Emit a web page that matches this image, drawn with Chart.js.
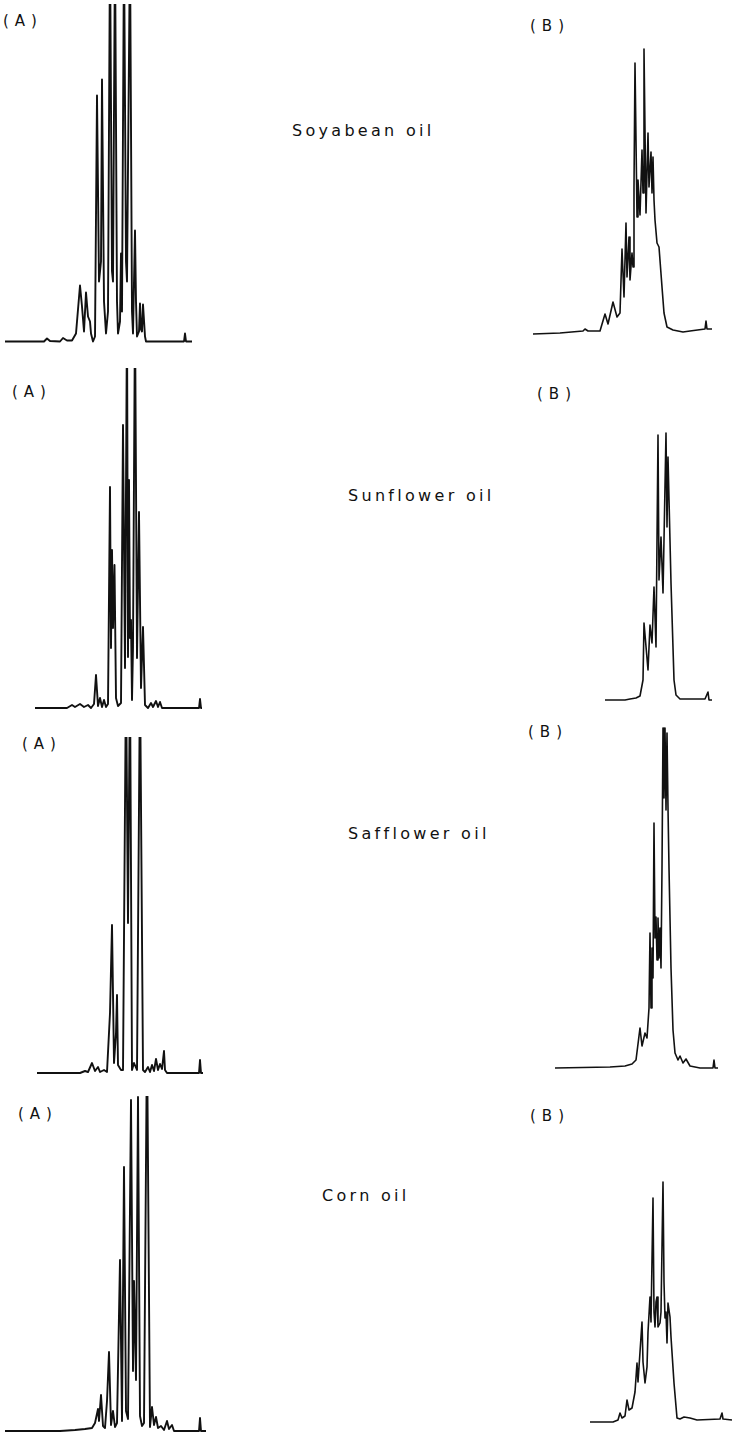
<!DOCTYPE html>
<html>
<head>
<meta charset="utf-8">
<script src="https://cdn.jsdelivr.net/npm/chart.js@4"></script>
<style>
  html, body { margin: 0; padding: 0; background: #fff; }
  #wrap { position: relative; width: 734px; height: 1435px; overflow: hidden; background: #fff; }
  canvas { position: absolute; }
  .lbl { position: absolute; font-family: "DejaVu Sans", sans-serif; color: #111; white-space: nowrap; line-height: 16px; }
  .ab { font-size: 15px; letter-spacing: 6px; }
  .oil { font-size: 16px; letter-spacing: 3.3px; }
</style>
</head>
<body>
<div id="wrap"></div>
<script>
// ---- Data: retention position (t) and detector response above baseline (r) ----
// Soyabean oil (A)
const soyA_t = [5,44,47,50,60,63,67,72,76,80,82,84,86,88,90,91,93,95,97,99,101,102,104,106,108,110,112,113,115,117,118,120,121,122,124,126,127,130,132,133,134,135,136,137,139,140,141,142,143,145,146,184,185,186,192];
const soyA_r = [0,0,3,0.5,0,3.5,1,1,8,56,35,10,49,25,20,8,0,5,246,60,80,262,40,8,30,400,70,60,400,40,8,20,88,30,400,80,60,400,30,8,60,111,40,5,10,38,12,10,37,5,0,0,8,0,0];
// Soyabean oil (B)
const soyB_t = [533,560,583,585,588,600,605,608,613,617,620,622,624,626,627,629,630,632,633,634,635,637,638,640,642,643,644,646,648,649,651,652,653,654,655,657,659,662,664,667,673,683,690,705,706,707,712];
const soyB_r = [0,1,3,5,3,3,20,10,32,17,21,85,37,111,57,97,54,81,67,147,271,117,154,119,184,141,285,121,201,147,182,141,177,134,114,91,87,47,21,7,4,2,3,5,13,5,5];
// Sunflower oil (A)
const sunA_t = [35,67,72,75,80,84,88,91,94,96,98,100,102,104,106,108,110,111,112,113,114.5,116,118,121,123,125,127,128,129,130,131,132,133,135,137,139,141,143,145,148,151,153,156,158,160,162,199,200,201,202];
const sunA_r = [0,0,3,1,4,1,3,0,4,33,2,10,1,8,1,4,221,60,158,80,143,10,2,5,283,40,400,51,228,70,88,8,61,400,50,196,20,81,3,0,5,1,7,1,6,0,0,9,0,0];
// Sunflower oil (B)
const sunB_t = [605,625,630,636,640,643,644,648,650,652,654,656,658,659,661,663,666,667,668,671,674,676,680,705,708,709,712];
const sunB_r = [0,0,1,2,4,20,77,30,75,57,113,53,265,120,163,107,267,173,243,117,20,5,1,1,8,0,0];
// Safflower oil (A)
const safA_t = [37,80,85,88,92,95,98,100,104,107,110,112,114,116,117,118,121,123,126,128,130,132,134,137,140,143,145,148,150,152,154,156,158,160,162,164,165,167,199,200,201,203];
const safA_r = [0,0,2,1,10,2,6,1,3,1,60,148,10,40,78,8,3,3,400,150,400,3,10,3,400,3,1,6,1,8,2,14,3,9,4,22,3,0,0,13,0,0];
// Safflower oil (B)
const safB_t = [555,610,625,632,636,640,642,645,647,649,650,651,652,653,654,655,656,657,658,659,660,661,662,663,664,665,666,667,668,669,670,671,673,675,678,680,683,686,690,700,713,714,715,718];
const safB_r = [0,1,2,4,8,40,22,35,30,60,135,60,120,90,245,130,151,108,150,110,140,100,200,340,270,340,258,335,260,200,150,100,38,15,8,12,5,9,2,0,0,8,0,0];
// Corn oil (A)
const cornA_t = [5,60,75,85,92,95,98,99,101,103,105,107,109,111,113,115,117,120,122,124,126,128,131,133,134,136,138,140,142,144,147,150,152,154,156,158,161,164,167,169,172,174,199,200,201,206];
const cornA_r = [0,0,1,2,3,8,22,10,36,5,3,30,79,6,20,4,8,171,10,264,20,12,331,60,150,51,334,15,5,8,400,4,24,6,14,3,5,1,10,2,6,0,0,13,0,0];
// Corn oil (B)
const cornB_t = [590,613,618,620,622,625,627,629,632,635,637,638,640,642,643,645,647,648,650,651,653,654,655,656,657,658,660,661,663,664,665,666,667,668,670,671,674,677,680,684,690,697,720,722,723,732];
const cornB_r = [0,0,2,9,4,6,22,12,14,30,59,40,70,100,60,39,55,90,125,100,224,110,95,120,125,95,99,110,240,140,104,110,79,119,105,85,39,4,3,5,4,2,3,9,3,2];

// ---- Layout (where each trace sits on the page) ----
const panels = [
  { t: soyA_t,  r: soyA_r,  left: 0,   top: 4,    width: 200, height: 346, base: 341.5, lw: 1.9 },
  { t: soyB_t,  r: soyB_r,  left: 520, top: 40,   width: 214, height: 300, base: 334,   lw: 1.6 },
  { t: sunA_t,  r: sunA_r,  left: 0,   top: 368,  width: 240, height: 347, base: 708,   lw: 1.9 },
  { t: sunB_t,  r: sunB_r,  left: 600, top: 380,  width: 134, height: 330, base: 700,   lw: 1.6 },
  { t: safA_t,  r: safA_r,  left: 0,   top: 737,  width: 220, height: 343, base: 1073,  lw: 1.9 },
  { t: safB_t,  r: safB_r,  left: 540, top: 720,  width: 194, height: 360, base: 1068,  lw: 1.6 },
  { t: cornA_t, r: cornA_r, left: 0,   top: 1096, width: 220, height: 339, base: 1431,  lw: 1.9 },
  { t: cornB_t, r: cornB_r, left: 580, top: 1150, width: 154, height: 285, base: 1422,  lw: 1.6 }
];

const labels = [
  { text: "(A)", cls: "ab", left: 3,   top: 13 },
  { text: "(B)", cls: "ab", left: 530, top: 18 },
  { text: "Soyabean oil", cls: "oil", left: 292, top: 123 },
  { text: "(A)", cls: "ab", left: 12,  top: 384 },
  { text: "(B)", cls: "ab", left: 537, top: 386 },
  { text: "Sunflower oil", cls: "oil", left: 348, top: 488 },
  { text: "(A)", cls: "ab", left: 22,  top: 736 },
  { text: "(B)", cls: "ab", left: 528, top: 724 },
  { text: "Safflower oil", cls: "oil", left: 348, top: 826 },
  { text: "(A)", cls: "ab", left: 18,  top: 1106 },
  { text: "(B)", cls: "ab", left: 530, top: 1108 },
  { text: "Corn oil", cls: "oil", left: 322, top: 1188 }
];

const wrap = document.getElementById('wrap');
labels.forEach(l => {
  const d = document.createElement('div');
  d.className = 'lbl ' + l.cls;
  d.textContent = l.text;
  d.style.left = l.left + 'px';
  d.style.top = l.top + 'px';
  wrap.appendChild(d);
});

panels.forEach(p => {
  const c = document.createElement('canvas');
  c.width = p.width; c.height = p.height;
  c.style.left = p.left + 'px'; c.style.top = p.top + 'px';
  c.style.width = p.width + 'px'; c.style.height = p.height + 'px';
  wrap.appendChild(c);
  const pts = p.t.map((t, i) => ({ x: t, y: p.r[i] }));
  new Chart(c.getContext('2d'), {
    type: 'line',
    data: { datasets: [{ data: pts, borderColor: '#111', borderWidth: p.lw, pointRadius: 0, tension: 0, fill: false, borderJoinStyle: 'round' }] },
    options: {
      responsive: false, animation: false, events: [],
      layout: { padding: 0 },
      plugins: { legend: { display: false }, tooltip: { enabled: false } },
      scales: {
        x: { type: 'linear', display: false, min: p.left, max: p.left + p.width },
        y: { display: false, min: p.base - (p.top + p.height), max: p.base - p.top }
      }
    }
  });
});
</script>
</body>
</html>
